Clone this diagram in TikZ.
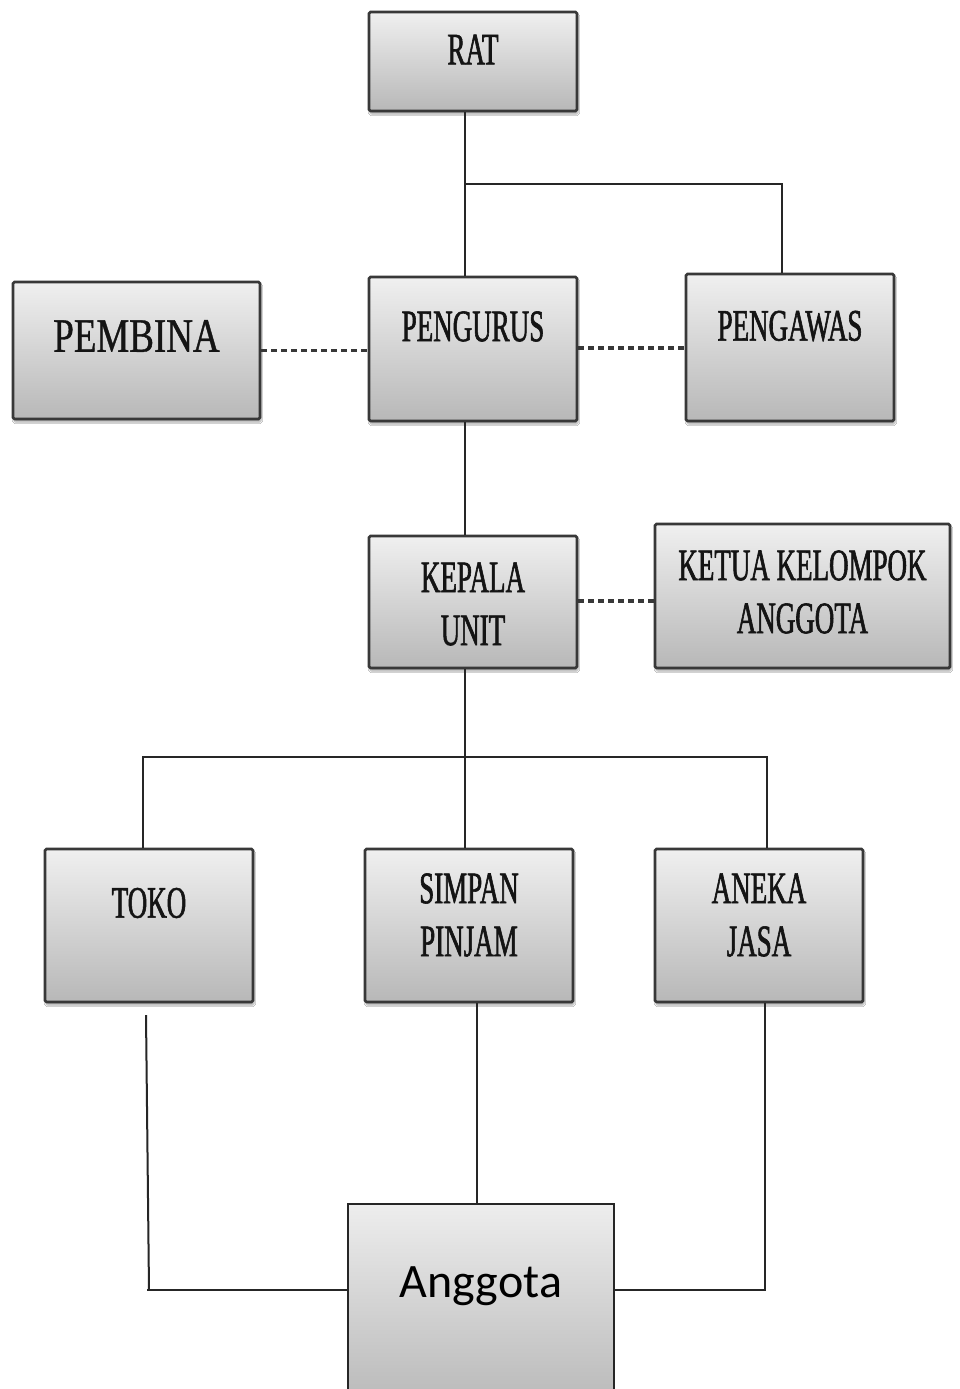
\documentclass[tikz,border=0pt]{standalone}
\usepackage{fontspec}
\newfontfamily\condserif[FakeStretch=0.6,FakeBold=1.3]{Liberation Serif}
\newfontfamily\pemserif[FakeStretch=0.77,FakeBold=0.8]{Liberation Serif}
\newfontfamily\sanscal{Carlito}
\usetikzlibrary{shadows.blur}
\begin{document}
\begin{tikzpicture}[x=1pt,y=-1pt,
  orgbox/.style={draw=black!78, line width=2.8pt, rounded corners=1.5pt,
    top color=black!6, bottom color=black!28, inner sep=0pt,
    blur shadow={shadow xshift=1pt, shadow yshift=-3pt, shadow opacity=35, shadow blur steps=6}},
  membox/.style={draw=black!85, line width=1.4pt,
    top color=black!7, bottom color=black!27, inner sep=0pt},
  lbl/.style={font=\condserif\fontsize{45}{53}\selectfont, align=center, inner sep=0pt, text=black!92},
  conn/.style={line width=2pt, black!85},
  dconn/.style={line width=3.4pt, black!78, dash pattern=on 6pt off 4pt}
]
\useasboundingbox (0,0) rectangle (960,1389);
\clip (0,0) rectangle (960,1389);
\fill[white] (0,0) rectangle (960,1389);

% boxes
\node[orgbox, minimum width=208pt, minimum height=99pt]  (rat)      at (473,61.5)  {};
\node[orgbox, minimum width=208pt, minimum height=144pt] (pengurus) at (473,349)   {};
\node[orgbox, minimum width=247pt, minimum height=137pt] (pembina)  at (136.5,350.5) {};
\node[orgbox, minimum width=208pt, minimum height=147pt] (pengawas) at (790,347.5) {};
\node[orgbox, minimum width=208pt, minimum height=132pt] (kepala)   at (473,602)   {};
\node[orgbox, minimum width=295pt, minimum height=144pt] (ketua)    at (802.5,596) {};
\node[orgbox, minimum width=208pt, minimum height=153pt] (toko)     at (149,925.5) {};
\node[orgbox, minimum width=208pt, minimum height=153pt] (simpan)   at (469,925.5) {};
\node[orgbox, minimum width=208pt, minimum height=153pt] (aneka)    at (759,925.5) {};
\node[membox, minimum width=266pt, minimum height=196pt] (anggota)  at (481,1302)  {};

% labels
\node[lbl] (tRat)  at ([yshift=12pt]rat.center) {RAT};
\node[lbl] (tPgr)  at ([yshift=22.5pt]pengurus.center) {PENGURUS};
\node[lbl] (tPgw)  at ([yshift=21.5pt]pengawas.center) {PENGAWAS};
\node[lbl, font=\pemserif\fontsize{48}{56}\selectfont] (tPmb) at ([yshift=14.5pt]pembina.center) {PEMBINA};
\node[lbl] (tKep)  at ([yshift=-2pt]kepala.center) {KEPALA\\UNIT};
\node[lbl] (tKet)  at ([yshift=4pt]ketua.center) {KETUA KELOMPOK\\ANGGOTA};
\node[lbl] (tTok)  at ([yshift=22.5pt]toko.center) {TOKO};
\node[lbl] (tSim)  at ([yshift=10.5pt]simpan.center) {SIMPAN\\PINJAM};
\node[lbl] (tAne)  at ([yshift=10.5pt]aneka.center) {ANEKA\\JASA};
\node[font=\sanscal\fontsize{48}{56}\selectfont, anchor=base, inner sep=0pt] (tAng) at ([yshift=5pt]anggota.center) {Anggota};

% connectors
\coordinate (j1) at (465,184);
\draw[conn] ([xshift=-8pt]rat.south) -- ([xshift=-8pt]pengurus.north);
\draw[conn] (j1) -| ([xshift=-8pt]pengawas.north);
\draw[dconn] (pembina.east) -- (pembina.east -| pengurus.west);
\draw[dconn] ([yshift=1pt]pengurus.east) -- ([yshift=1pt]pengurus.east -| pengawas.west);
\draw[conn] ([xshift=-8pt]pengurus.south) -- ([xshift=-8pt]kepala.north);
\draw[dconn] ([yshift=1pt]kepala.east) -- ([yshift=1pt]kepala.east -| ketua.west);

\coordinate (j2) at (465,757);
\draw[conn] ([xshift=-8pt]kepala.south) -- ([xshift=-4pt]simpan.north);
\draw[conn] ([xshift=-6pt]toko.north) |- (j2) -| ([xshift=8pt]aneka.north);

\coordinate (tk) at (146,1015);
\coordinate (tkc) at (149,1290);
\draw[conn] (tk) -- (tkc);
\draw[conn] ([xshift=-2pt]tkc) -- ([yshift=12pt]anggota.west);
\draw[conn] ([xshift=8pt]simpan.south) -- ([xshift=8pt]simpan.south |- anggota.north);
\draw[conn] ([xshift=6pt]aneka.south) |- ([yshift=12pt]anggota.east);
\end{tikzpicture}
\end{document}
